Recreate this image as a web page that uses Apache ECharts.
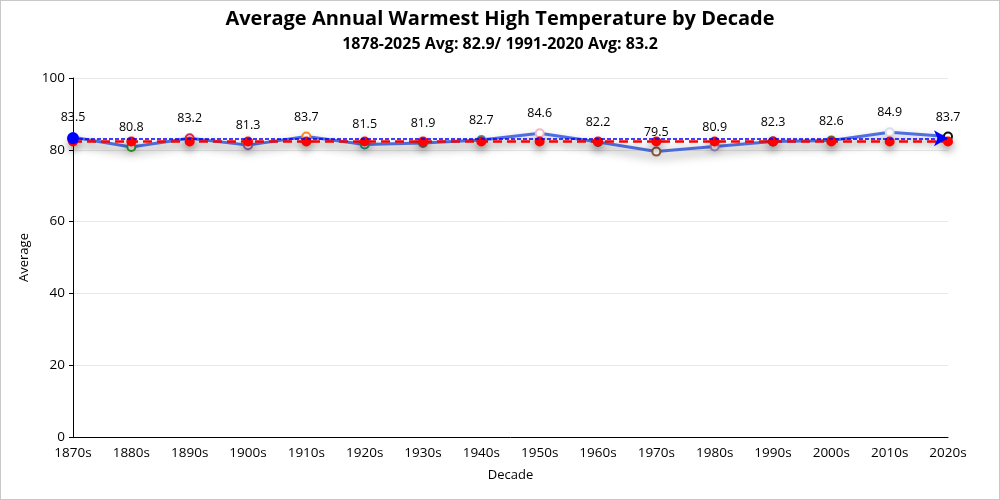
<!DOCTYPE html>
<html>
<head>
<meta charset="utf-8">
<script src="https://cdn.jsdelivr.net/npm/echarts@6/dist/echarts.min.js"></script>
<style>
html,body{margin:0;padding:0;background:#fff;}
#c{width:998px;height:498px;border:1px solid #c8c8c8;}
</style>
</head>
<body>
<div id="c"></div>
<script>
const decades = ['1870s','1880s','1890s','1900s','1910s','1920s','1930s','1940s','1950s','1960s','1970s','1980s','1990s','2000s','2010s','2020s'];
const averages = [83.5,80.8,83.2,81.3,83.7,81.5,81.9,82.7,84.6,82.2,79.5,80.9,82.3,82.6,84.9,83.7];
const recordAvg = [82.3,82.3,82.3,82.3,82.3,82.3,82.3,82.3,82.3,82.3,82.3,82.3,82.3,82.3,82.3,82.3];
const normalAvg = 83.2;
const pointColors = ['#1f3fff','#2ca02c','#d62750','#9467bd','#ff8c1a','#1a9e8a','#6d6d6d','#2aa7b0','#f2b6c8','#555555','#8c5a3c','#9b8fd6','#1f1f8f','#3a8f3a','#d8dcf0','#111111'];
const yTicks = {min:0, max:100, interval:20};

const chart = echarts.init(document.getElementById('c'));
const ff = '"Open Sans", "Noto Sans", sans-serif';
chart.setOption({
  textStyle:{fontFamily:ff},
  title:{
    text:'Average Annual Warmest High Temperature by Decade',
    subtext:'1878-2025 Avg: 82.9/ 1991-2020 Avg: 83.2',
    left:'center', top:3, itemGap:7,
    textStyle:{fontSize:20,fontWeight:'bold',color:'#000',fontFamily:ff},
    subtextStyle:{fontSize:16,fontWeight:'bold',color:'#000',fontFamily:ff}
  },
  grid:{left:72,right:51,top:77,bottom:62},
  xAxis:{
    type:'category', data:decades, boundaryGap:false,
    name:'Decade', nameLocation:'middle', nameGap:32,
    nameTextStyle:{color:'#000',fontSize:13},
    axisLine:{lineStyle:{color:'#000'}},
    axisTick:{show:false},
    axisLabel:{color:'#000',fontSize:13.5,interval:0,margin:9}
  },
  yAxis:{
    type:'value', min:yTicks.min, max:yTicks.max, interval:yTicks.interval,
    name:'Average', nameLocation:'middle', nameGap:40,
    nameTextStyle:{color:'#000',fontSize:13},
    axisLine:{show:true,lineStyle:{color:'#000'}},
    axisTick:{show:true,length:4,lineStyle:{color:'#000'}},
    axisLabel:{color:'#000',fontSize:13.5},
    splitLine:{lineStyle:{color:'#e8e8e8'}}
  },
  series:[
    {
      type:'line', name:'Average',
      data:averages.map((v,i)=>({value:v,itemStyle:{color:pointColors[i]}})),
      symbol:'emptyCircle', symbolSize:8,
      lineStyle:{color:'#4f6fe0',width:3,shadowColor:'rgba(0,0,0,0.45)',shadowBlur:10,shadowOffsetY:5},
      itemStyle:{borderWidth:2},
      label:{show:true,position:'top',distance:8,color:'#000',fontSize:12.5},
      z:3,
      markLine:{
        silent:true,
        symbol:['circle','arrow'], symbolSize:[12,14],
        label:{show:false},
        lineStyle:{color:'#0000ff',type:[4,2],width:1.5},
        itemStyle:{color:'#0000ff'},
        data:[{yAxis:normalAvg}]
      }
    },
    {
      type:'line', name:'Record Avg',
      data:recordAvg,
      symbol:'circle', symbolSize:10,
      itemStyle:{color:'#ff0000',shadowColor:'rgba(0,0,0,0.45)',shadowBlur:8,shadowOffsetY:4},
      lineStyle:{color:'#ff0000',width:2.5,type:[9,5],shadowColor:'rgba(0,0,0,0.3)',shadowBlur:8,shadowOffsetY:4},
      z:4
    }
  ]
});
</script>
</body>
</html>
